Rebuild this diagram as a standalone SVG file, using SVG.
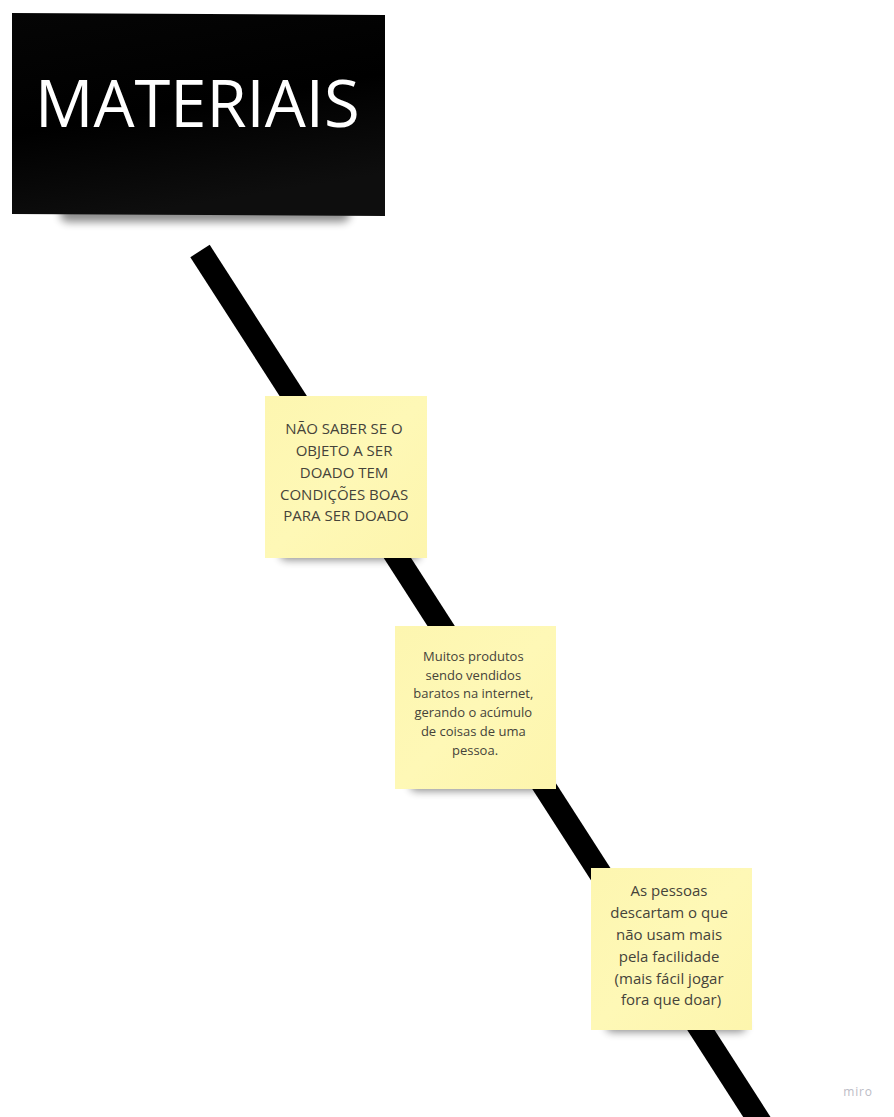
<svg xmlns="http://www.w3.org/2000/svg" width="894" height="1117" viewBox="0 0 894 1117">
  <defs>
    <filter id="soft" x="-20%" y="-100%" width="140%" height="300%">
      <feGaussianBlur stdDeviation="4"/>
    </filter>
    <linearGradient id="stickyFill" x1="0" y1="0" x2="1" y2="1">
      <stop offset="0" stop-color="#fdf6b0"/>
      <stop offset="0.5" stop-color="#fef8b6"/>
      <stop offset="1" stop-color="#fdf5ad"/>
    </linearGradient>
    <linearGradient id="titleFill" x1="0" y1="0" x2="0.3" y2="1">
      <stop offset="0" stop-color="#050505"/>
      <stop offset="0.55" stop-color="#000000"/>
      <stop offset="1" stop-color="#0e0e0e"/>
    </linearGradient>
  </defs>
  <style>
    .shadow { fill: #000; opacity: 0.45; filter: url(#soft); }
    .sticky { fill: url(#stickyFill); }
    .note { font-family: "Open Sans", "Noto Sans", sans-serif; fill: #45433a; text-anchor: middle; }
    .title { font-family: "Open Sans", "Noto Sans", sans-serif; fill: #ffffff; font-size: 65px; }
  </style>

  <rect width="894" height="1117" fill="#ffffff"/>

  <!-- connectors -->
  <g id="connectors">
    <line x1="200" y1="251" x2="762" y2="1125" stroke="#000" stroke-width="23"/>
  </g>

  <!-- title card -->
  <g id="title">
    <rect class="shadow" x="60" y="206" width="290" height="16" rx="8"/>
    <polygon points="12,13 385,15 385,216 12,214" fill="url(#titleFill)"/>
    <text class="title" x="35" y="127">MATERIAIS</text>
  </g>

  <!-- sticky note 1 -->
  <g id="note1">
    <rect class="shadow" x="280" y="548" width="140" height="12" rx="6"/>
    <rect class="sticky" x="265" y="396" width="162" height="162"/>
    <text class="note" font-size="15">
      <tspan x="346" y="434">NÃO SABER SE O</tspan>
      <tspan x="346" y="456">OBJETO A SER</tspan>
      <tspan x="346" y="478">DOADO TEM</tspan>
      <tspan x="346" y="500">CONDIÇÕES BOAS</tspan>
      <tspan x="346" y="521">PARA SER DOADO</tspan>
    </text>
  </g>

  <!-- sticky note 2 -->
  <g id="note2">
    <rect class="shadow" x="410" y="779" width="140" height="12" rx="6"/>
    <rect class="sticky" x="395" y="626" width="161" height="163"/>
    <text class="note" font-size="13">
      <tspan x="475" y="661">Muitos produtos</tspan>
      <tspan x="475" y="680">sendo vendidos</tspan>
      <tspan x="475" y="698">baratos na internet,</tspan>
      <tspan x="475" y="717">gerando o acúmulo</tspan>
      <tspan x="475" y="736">de coisas de uma</tspan>
      <tspan x="475" y="755">pessoa.</tspan>
    </text>
  </g>

  <!-- sticky note 3 -->
  <g id="note3">
    <rect class="shadow" x="606" y="1020" width="140" height="12" rx="6"/>
    <rect class="sticky" x="591" y="868" width="161" height="162"/>
    <text class="note" font-size="15">
      <tspan x="671" y="896">As pessoas</tspan>
      <tspan x="671" y="918">descartam o que</tspan>
      <tspan x="671" y="940">não usam mais</tspan>
      <tspan x="671" y="962">pela facilidade</tspan>
      <tspan x="671" y="984">(mais fácil jogar</tspan>
      <tspan x="671" y="1005">fora que doar)</tspan>
    </text>
  </g>

  <text x="858" y="1096" font-family="Open Sans, sans-serif" font-size="12" letter-spacing="0.8" fill="#bcbcc6" text-anchor="middle">miro</text>
</svg>
